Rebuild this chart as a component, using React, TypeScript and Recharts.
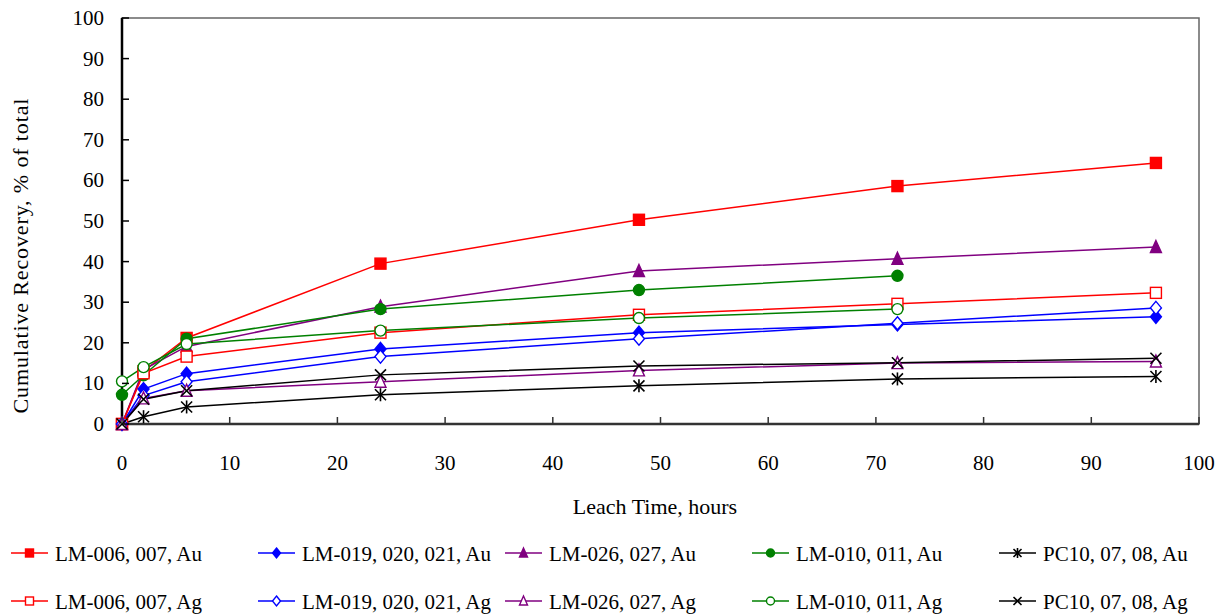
import React from "react";
import { LineChart, Line, XAxis, YAxis, ReferenceArea, Label } from "recharts";

const hours = [0, 2, 6, 24, 48, 72, 96];

const lm006Au = [0, 13.0, 21.2, 39.5, 50.3, 58.6, 64.3];
const lm019Au = [0, 8.6, 12.4, 18.5, 22.5, 24.5, 26.4];
const lm026Au = [0, 13.4, 19.1, 28.9, 37.7, 40.7, 43.6];
const lm010Au = [7.2, 12.0, 21.0, 28.3, 33.0, 36.5, null];
const pc10Au = [0, 1.8, 4.2, 7.2, 9.4, 11.1, 11.7];

const lm006Ag = [0, 12.5, 16.6, 22.5, 26.9, 29.6, 32.3];
const lm019Ag = [0, 7.0, 10.4, 16.6, 21.0, 24.8, 28.6];
const lm026Ag = [0, 6.3, 8.2, 10.4, 13.2, 15.0, 15.4];
const lm010Ag = [10.5, 14.0, 19.7, 23.0, 26.1, 28.3, null];
const pc10Ag = [0, 6.1, 8.2, 12.1, 14.3, 15.1, 16.2];

const axisTicks = [0, 10, 20, 30, 40, 50, 60, 70, 80, 90, 100];

type Shape = "square" | "diamond" | "triangle" | "circle" | "asterisk" | "cross";

const series = [
  { key: "lm006Au", name: "LM-006, 007, Au", values: lm006Au, color: "#FF0000", shape: "square", filled: true },
  { key: "lm019Au", name: "LM-019, 020, 021, Au", values: lm019Au, color: "#0000FF", shape: "diamond", filled: true },
  { key: "lm026Au", name: "LM-026, 027, Au", values: lm026Au, color: "#800080", shape: "triangle", filled: true },
  { key: "lm010Au", name: "LM-010, 011, Au", values: lm010Au, color: "#008000", shape: "circle", filled: true },
  { key: "pc10Au", name: "PC10, 07, 08, Au", values: pc10Au, color: "#000000", shape: "asterisk", filled: true },
  { key: "lm006Ag", name: "LM-006, 007, Ag", values: lm006Ag, color: "#FF0000", shape: "square", filled: false },
  { key: "lm019Ag", name: "LM-019, 020, 021, Ag", values: lm019Ag, color: "#0000FF", shape: "diamond", filled: false },
  { key: "lm026Ag", name: "LM-026, 027, Ag", values: lm026Ag, color: "#800080", shape: "triangle", filled: false },
  { key: "lm010Ag", name: "LM-010, 011, Ag", values: lm010Ag, color: "#008000", shape: "circle", filled: false },
  { key: "pc10Ag", name: "PC10, 07, 08, Ag", values: pc10Ag, color: "#000000", shape: "cross", filled: false },
] as { key: string; name: string; values: (number | null)[]; color: string; shape: Shape; filled: boolean }[];

const data = hours.map((h, i) => {
  const row: Record<string, number | null> = { hours: h };
  series.forEach((s) => (row[s.key] = s.values[i]));
  return row;
});

const FONT = '"Liberation Serif", "Times New Roman", serif';

function Marker({ cx, cy, shape, filled, color, size }: any) {
  const r = size / 2;
  const fill = filled ? color : "#fff";
  const sw = 1.4;
  switch (shape) {
    case "square":
      return <rect x={cx - r} y={cy - r} width={size} height={size} fill={fill} stroke={color} strokeWidth={sw} />;
    case "diamond":
      return (
        <polygon
          points={`${cx},${cy - r - 1} ${cx + r},${cy} ${cx},${cy + r + 1} ${cx - r},${cy}`}
          fill={fill}
          stroke={color}
          strokeWidth={sw}
        />
      );
    case "triangle":
      return (
        <polygon
          points={`${cx},${cy - r - 1} ${cx + r},${cy + r} ${cx - r},${cy + r}`}
          fill={fill}
          stroke={color}
          strokeWidth={sw}
        />
      );
    case "circle":
      return <circle cx={cx} cy={cy} r={r} fill={fill} stroke={color} strokeWidth={sw} />;
    case "asterisk":
      return (
        <g stroke={color} strokeWidth={1.6}>
          <line x1={cx - r} y1={cy - r} x2={cx + r} y2={cy + r} />
          <line x1={cx - r} y1={cy + r} x2={cx + r} y2={cy - r} />
          <line x1={cx} y1={cy - r - 1} x2={cx} y2={cy + r + 1} />
        </g>
      );
    default:
      return (
        <g stroke={color} strokeWidth={1.6}>
          <line x1={cx - r} y1={cy - r} x2={cx + r} y2={cy + r} />
          <line x1={cx - r} y1={cy + r} x2={cx + r} y2={cy - r} />
        </g>
      );
  }
}

const makeDot = (s: (typeof series)[number]) => (props: any) => {
  const { cx, cy, index } = props;
  if (cx == null || cy == null || props.value == null) return <g key={`${s.key}-${index}`} />;
  return (
    <g key={`${s.key}-${index}`}>
      <Marker cx={cx} cy={cy} shape={s.shape} filled={s.filled} color={s.color} size={11} />
    </g>
  );
};

const YTick = (props: any) => {
  const { x, y, payload } = props;
  return (
    <g>
      <line x1={x} y1={y} x2={x + 7} y2={y} stroke="#000" strokeWidth={1.5} />
      <text x={x - 18} y={y + 7} textAnchor="end" fontFamily={FONT} fontSize={21} fill="#000">
        {payload.value}
      </text>
    </g>
  );
};

const XTick = (props: any) => {
  const { x, y, payload } = props;
  return (
    <g>
      <line x1={x} y1={y} x2={x} y2={y - 7} stroke="#333" strokeWidth={1.5} />
      <text x={x} y={y + 46} textAnchor="middle" fontFamily={FONT} fontSize={21} fill="#000">
        {payload.value}
      </text>
    </g>
  );
};

const legendCols = [11, 258, 505, 752, 999];
const legendRows = [553, 601];

function LegendBox() {
  return (
    <svg width={1223} height={615} style={{ position: "absolute", left: 0, top: 0, pointerEvents: "none" }}>
      {series.map((s, i) => {
        const x = legendCols[i % 5];
        const y = legendRows[Math.floor(i / 5)];
        return (
          <g key={s.key}>
            <line x1={x} y1={y} x2={x + 37} y2={y} stroke={s.color} strokeWidth={1.5} />
            <Marker cx={x + 18.5} cy={y} shape={s.shape} filled={s.filled} color={s.color} size={8} />
            <text
              transform={`translate(${x + 44},${y + 8}) scale(0.955,1)`}
              fontFamily={FONT}
              fontSize={22}
              fill="#000"
            >
              {s.name}
            </text>
          </g>
        );
      })}
    </svg>
  );
}

export default function App() {
  return (
    <div style={{ position: "absolute", left: 0, top: 0, width: 1223, height: 615, background: "#fff" }}>
      <LineChart width={1223} height={615} data={data} margin={{ top: 18, right: 24, bottom: 131, left: 0 }}>
        <ReferenceArea x1={0} x2={100} y1={0} y2={100} fill="none" stroke="#666" strokeWidth={1.5} />
        <XAxis
          type="number"
          dataKey="hours"
          domain={[0, 100]}
          ticks={axisTicks}
          interval={0}
          height={60}
          tickSize={0}
          tickMargin={0}
          tick={<XTick />}
          axisLine={{ stroke: "#333", strokeWidth: 2.5 }}
        >
          <Label
            content={() => (
              <text x={655} y={514} textAnchor="middle" fontFamily={FONT} fontSize={22} fill="#000">
                Leach Time, hours
              </text>
            )}
          />
        </XAxis>
        <YAxis
          type="number"
          domain={[0, 100]}
          ticks={axisTicks}
          interval={0}
          width={122}
          tickSize={0}
          tickMargin={0}
          tick={<YTick />}
          axisLine={{ stroke: "#000", strokeWidth: 2.5 }}
        >
          <Label
            content={() => (
              <text
                transform="translate(28,256) rotate(-90)"
                textAnchor="middle"
                fontFamily={FONT}
                fontSize={22}
                fill="#000"
                textLength={315}
                lengthAdjust="spacing"
              >
                Cumulative Recovery, % of total
              </text>
            )}
          />
        </YAxis>
        {series.map((s) => (
          <Line
            key={s.key}
            type="linear"
            dataKey={s.key}
            name={s.name}
            stroke={s.color}
            strokeWidth={1.5}
            dot={makeDot(s)}
            activeDot={false}
            isAnimationActive={false}
          />
        ))}
      </LineChart>
      <LegendBox />
    </div>
  );
}
